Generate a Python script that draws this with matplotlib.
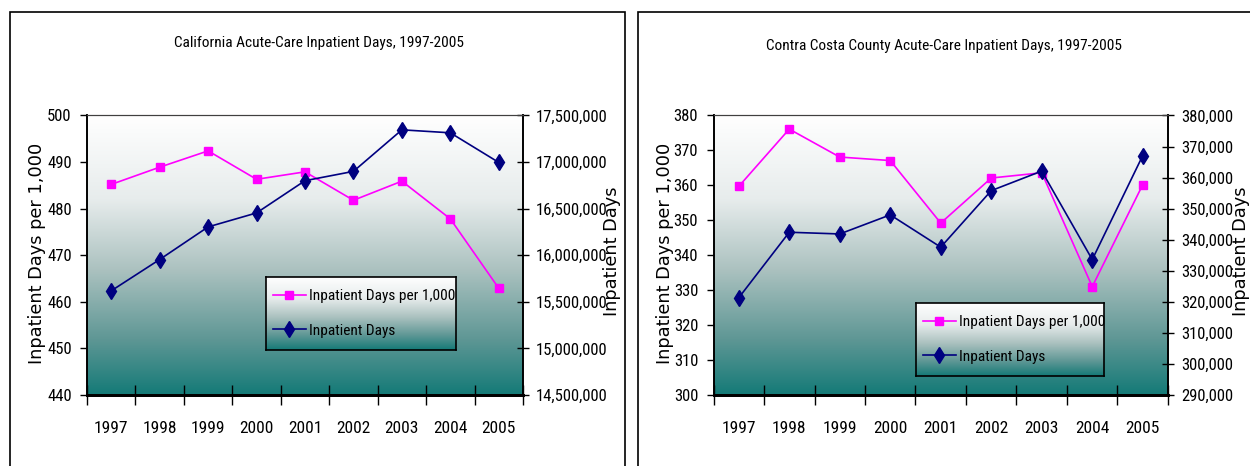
import numpy as np
import matplotlib.pyplot as plt
from matplotlib import font_manager
from matplotlib.colors import LinearSegmentedColormap
from matplotlib.patches import Rectangle
from matplotlib.ticker import FuncFormatter, FixedLocator, NullFormatter

years = ['1997', '1998', '1999', '2000', '2001', '2002', '2003', '2004', '2005']

# California
ca_per_1000 = [485.2, 488.9, 492.4, 486.3, 487.9, 481.8, 485.9, 477.8, 462.9]
ca_days = [15618000, 15954000, 16304000, 16454000, 16800000,
           16900000, 17346000, 17314000, 16996000]

# Contra Costa County
cc_per_1000 = [359.7, 376.1, 368.1, 367.1, 349.2, 362.1, 363.6, 331.0, 360.2]
cc_days = [321300, 342400, 341850, 348000, 337600, 355800, 362100, 333600, 367100]

# prefer a condensed face when one is installed
installed = {f.name for f in font_manager.fontManager.ttflist}
NARROW = next((n for n in ['Liberation Sans Narrow', 'Arial Narrow',
                           'Roboto Condensed', 'Open Sans Condensed']
               if n in installed), 'Liberation Sans')
NARROW_SCALE = 1.2 if NARROW != 'Liberation Sans' else 1.0

PINK = '#ff00ff'
NAVY = '#000080'

fade = LinearSegmentedColormap.from_list(
    'fade', [(0, '#ffffff'), (0.3, '#e7ecec'), (0.55, '#acc2c0'),
             (0.8, '#5f9795'), (1, '#147a77')])
grad = np.linspace(0, 1, 256).reshape(-1, 1)

fig = plt.figure(figsize=(12.5, 4.66), dpi=100)

# panel frames
fig.patches.append(Rectangle((0.008, -0.1), 0.492, 1.074, transform=fig.transFigure,
                             fill=False, edgecolor='black', linewidth=1.2))
fig.patches.append(Rectangle((0.5104, -0.1), 0.6, 1.074, transform=fig.transFigure,
                             fill=False, edgecolor='black', linewidth=1.2))


def panel(rect, leg_rect, title, title_xy, per1000, days, left_lim, left_step,
          right_lim, right_step, ylab_x, y2lab_x):
    fs = 10 * NARROW_SCALE
    ax = fig.add_axes(rect)
    ax.imshow(grad, cmap=fade, aspect='auto', extent=[0, 1, 0, 1],
              transform=ax.transAxes, zorder=0)
    x = np.arange(len(years))
    l1, = ax.plot(x, per1000, color=PINK, lw=1.2, marker='s', ms=6,
                  mec=PINK, label='Inpatient Days per 1,000', zorder=3)
    ax.set_xlim(-0.5, len(years) - 0.5)
    ax.set_ylim(*left_lim)
    ax.set_yticks(np.arange(left_lim[0], left_lim[1] + 1, left_step))

    ax2 = ax.twinx()
    l2, = ax2.plot(x, days, color=NAVY, lw=1.2, marker='d', ms=8,
                   mec=NAVY, label='Inpatient Days', zorder=3)
    ax2.set_ylim(*right_lim)
    ax2.set_yticks(np.arange(right_lim[0], right_lim[1] + 1, right_step))
    ax2.yaxis.set_major_formatter(FuncFormatter(lambda v, _: f'{v:,.0f}'))

    # category boundaries carry the tick marks, centres carry the labels
    ax.xaxis.set_major_locator(FixedLocator(np.arange(-0.5, len(years), 1.0)))
    ax.xaxis.set_major_formatter(NullFormatter())
    ax.xaxis.set_minor_locator(FixedLocator(x))
    ax.set_xticklabels(years, minor=True, family=NARROW, fontsize=fs * 1.04)
    ax.tick_params(axis='x', which='major', direction='inout', length=14, width=1)
    ax.tick_params(axis='x', which='minor', length=0, pad=19)
    ax.tick_params(axis='y', direction='out', length=5, width=1, pad=6)
    ax2.tick_params(axis='y', direction='inout', length=9, width=1, pad=5)
    for t in ax.get_yticklabels() + ax2.get_yticklabels():
        t.set_family(NARROW)
        t.set_fontsize(fs)

    for a in (ax, ax2):
        a.spines['top'].set_color('#404040')
        a.spines['bottom'].set_linewidth(2)
        a.spines['left'].set_linewidth(1.2)
        a.spines['right'].set_linewidth(1.2)

    fig.text(ylab_x, 0.457, 'Inpatient Days per 1,000', rotation=90,
             ha='center', va='center', fontsize=12.8, family='DejaVu Sans')
    fig.text(y2lab_x, 0.46, 'Inpatient Days', rotation=90,
             ha='center', va='center', fontsize=12.8, family='DejaVu Sans')
    fig.text(title_xy[0], title_xy[1], title, ha='center', va='center',
             family=NARROW, fontsize=9.2 * NARROW_SCALE)

    lax = fig.add_axes(leg_rect)
    lax.imshow(grad, cmap=fade, aspect='auto', extent=[0, 1, 0, 1],
               transform=lax.transAxes)
    lax.set_xticks([])
    lax.set_yticks([])
    for s in lax.spines.values():
        s.set_linewidth(1.2)
    lax.legend([l1, l2], [l1.get_label(), l2.get_label()], loc='center left',
               frameon=False, prop={'family': NARROW, 'size': 9.2 * NARROW_SCALE},
               handlelength=2.2, handletextpad=0.2, labelspacing=1.35,
               borderpad=0, borderaxespad=0.43)


panel([0.0696, 0.1524, 0.3488, 0.5998], [0.2128, 0.2489, 0.152, 0.1567],
      'California Acute-Care Inpatient Days, 1997-2005', (0.2552, 0.908),
      ca_per_1000, ca_days, (440, 500), 10, (14500000, 17500000), 500000,
      0.0295, 0.4895)

panel([0.5708, 0.1524, 0.3636, 0.5998], [0.7328, 0.1931, 0.1504, 0.1567],
      'Contra Costa County Acute-Care Inpatient Days, 1997-2005', (0.7552, 0.902),
      cc_per_1000, cc_days, (300, 380), 10, (290000, 380000), 10000,
      0.5316, 0.9928)

fig.savefig('out.png', dpi=100)
